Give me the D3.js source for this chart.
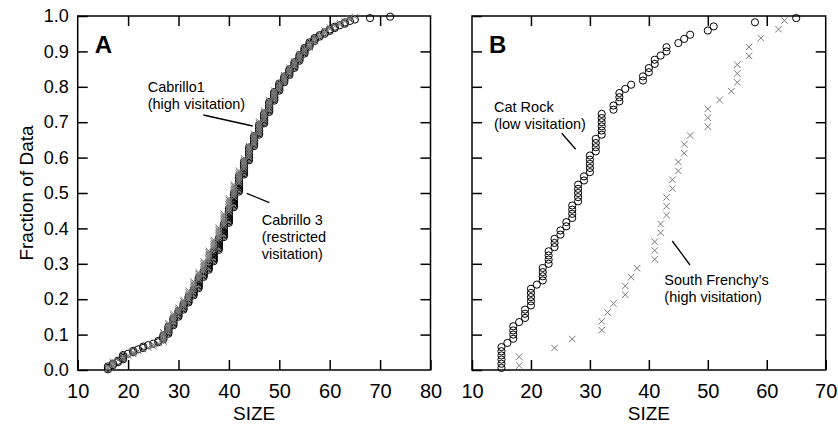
<!DOCTYPE html>
<html>
<head>
<meta charset="utf-8">
<script src="https://cdn.jsdelivr.net/npm/d3@7"></script>
<style>
  body { margin: 0; background: #fff; }
  svg { font-family: "Liberation Sans", Arial, Helvetica, sans-serif; }
</style>
</head>
<body>
<svg id="chart" width="838" height="426"></svg>
<script>
// sizes observed and how many animals at each size
const cabrillo1Sizes = [16,17,18,19,20,21,22,23,24,25,26,27,28,29,30,31,32,33,34,35,36,37,38,39,40,41,42,43,44,45,46,47,48,49,50,51,52,53,54,55,56,57,58,59,60,61,62,63,64,65,68,72];
const cabrillo1Counts = [3,2,2,4,1,2,1,2,1,1,2,4,6,6,5,5,5,5,8,5,6,8,9,10,11,11,12,10,10,8,8,8,8,7,6,5,5,5,5,5,4,3,2,2,2,2,1,2,1,1,1,1];

const cabrillo3Sizes = d3.range(16, 66);
const cabrillo3Counts = [2,4,1,2,1,2,1,1,1,2, 1,7,6,6,4,5,6,6,6,7, 7,7,8,9,10,9,9,8,8,8, 8,7,7,6,5,5,5,4,5,3, 4,3,2,3,2,1,2,1,2,1];

const catRockSizes = [15,16,17,18,19,20,21,22,23,24,25,26,27,28,29,30,31,32,34,35,36,37,39,40,41,42,43,45,46,47,50,51,58,65];
const catRockCounts = [6,1,4,1,3,5,1,4,4,3,2,2,4,5,2,5,4,6,2,3,1,1,2,2,2,1,2,1,1,1,1,1,1,1];

const frenchySizes = [18,24,27,32,33,34,36,37,38,41,42,43,44,45,46,47,50,52,54,55,57,59,62,63];
const frenchyCounts = [2,1,1,2,1,1,2,1,1,3,2,3,2,2,2,1,3,1,1,3,2,1,1,1];

const yTicks = [0, 0.1, 0.2, 0.3, 0.4, 0.5, 0.6, 0.7, 0.8, 0.9, 1.0];

// expand to one value per animal and build the cumulative fraction
function ecdf(sizes, counts) {
  const vals = [];
  sizes.forEach((s, i) => { for (let k = 0; k < counts[i]; k++) vals.push(s); });
  vals.sort(d3.ascending);
  const n = vals.length;
  return vals.map((v, i) => ({ size: v, frac: (i + 0.5) / n }));
}

const svg = d3.select("#chart");
const plotTop = 16, plotBottom = 370;
const y = d3.scaleLinear().domain([0, 1]).range([plotBottom, plotTop]);

const panels = [
  { letter: "A", left: 77.7, right: 430.5, domain: [10, 80],
    circles: ecdf(cabrillo1Sizes, cabrillo1Counts),
    crosses: ecdf(cabrillo3Sizes, cabrillo3Counts), yLabels: true },
  { letter: "B", left: 472, right: 825.7, domain: [10, 70],
    circles: ecdf(catRockSizes, catRockCounts),
    crosses: ecdf(frenchySizes, frenchyCounts), yLabels: false }
];

panels.forEach(p => {
  const x = d3.scaleLinear().domain(p.domain).range([p.left, p.right]);
  const g = svg.append("g");
  const tickLen = 10;
  const xTicks = d3.range(p.domain[0], p.domain[1] + 1, 10);

  // bottom axis: inward ticks
  const xAxis = d3.axisBottom(x).tickValues(xTicks).tickSize(-tickLen).tickPadding(tickLen + 4).tickSizeOuter(0);
  const gx = g.append("g").attr("transform", `translate(0,${plotBottom})`).call(xAxis);
  gx.select(".domain").remove();
  gx.selectAll("text").attr("font-size", 20).attr("fill", "#000").attr("font-family", "Liberation Sans, Arial, sans-serif");
  gx.selectAll("line").attr("stroke", "#000").attr("stroke-width", 1.5);

  // top ticks
  const gt = g.append("g").attr("transform", `translate(0,${plotTop})`)
    .call(d3.axisTop(x).tickValues(xTicks.slice(1, -1)).tickSize(-tickLen).tickFormat(""));
  gt.select(".domain").remove();
  gt.selectAll("line").attr("stroke", "#000").attr("stroke-width", 1.5);

  // left and right ticks
  const gl = g.append("g").attr("transform", `translate(${p.left},0)`)
    .call(d3.axisLeft(y).tickValues(yTicks).tickSize(-tickLen).tickPadding(9)
      .tickFormat(p.yLabels ? d3.format(".1f") : ""));
  gl.select(".domain").remove();
  gl.selectAll("line").attr("stroke", "#000").attr("stroke-width", 1.5);
  gl.selectAll("text").attr("font-size", 18).attr("fill", "#000").attr("font-family", "Liberation Sans, Arial, sans-serif");

  const gr = g.append("g").attr("transform", `translate(${p.right},0)`)
    .call(d3.axisRight(y).tickValues(yTicks.slice(1, -1)).tickSize(-tickLen).tickFormat(""));
  gr.select(".domain").remove();
  gr.selectAll("line").attr("stroke", "#000").attr("stroke-width", 1.5);

  // frame
  g.append("rect")
    .attr("x", p.left).attr("y", plotTop)
    .attr("width", p.right - p.left).attr("height", plotBottom - plotTop)
    .attr("fill", "none").attr("stroke", "#000").attr("stroke-width", 1.5);

  // circles (black, open)
  g.append("g").selectAll("circle").data(p.circles).join("circle")
    .attr("cx", d => x(d.size)).attr("cy", d => y(d.frac))
    .attr("r", 3.6).attr("fill", "none").attr("stroke", "#000").attr("stroke-width", 1);

  // crosses (grey)
  const s = 3.2;
  g.append("g").selectAll("path").data(p.crosses).join("path")
    .attr("d", d => {
      const cx = x(d.size), cy = y(d.frac);
      return `M${cx - s},${cy - s}L${cx + s},${cy + s}M${cx - s},${cy + s}L${cx + s},${cy - s}`;
    })
    .attr("stroke", "#7a7a7a").attr("stroke-width", 1).attr("fill", "none");

  // panel letter
  g.append("text").attr("x", p.left + 17).attr("y", 53).attr("font-size", 24)
    .attr("font-weight", "bold").text(p.letter);

  // x title
  g.append("text").attr("x", (p.left + p.right) / 2).attr("y", 420)
    .attr("text-anchor", "middle").attr("font-size", 19).text("SIZE");
});

// y title
svg.append("text")
  .attr("transform", `translate(33,${(plotTop + plotBottom) / 2}) rotate(-90)`)
  .attr("text-anchor", "middle").attr("font-size", 19).text("Fraction of Data");

// annotations
const notes = [
  { x: 147.7, y: 92, lines: ["Cabrillo1", "(high visitation)"], line: [203.3, 115, 252.7, 126] },
  { x: 261.7, y: 224.5, lines: ["Cabrillo 3", "(restricted", "visitation)"], line: [246.7, 193.3, 269.3, 202.7] },
  { x: 494, y: 112.3, lines: ["Cat Rock", "(low visitation)"], line: [561.7, 133.3, 575.7, 149.3] },
  { x: 664.3, y: 285, lines: ["South Frenchy\u2019s", "(high visitation)"], line: [672.3, 241, 690, 265] }
];
notes.forEach(n => {
  const t = svg.append("text").attr("font-size", 14.5);
  n.lines.forEach((l, i) => t.append("tspan").attr("x", n.x).attr("y", n.y + i * 17).text(l));
  svg.append("line")
    .attr("x1", n.line[0]).attr("y1", n.line[1]).attr("x2", n.line[2]).attr("y2", n.line[3])
    .attr("stroke", "#000").attr("stroke-width", 1.3);
});
</script>
</body>
</html>
